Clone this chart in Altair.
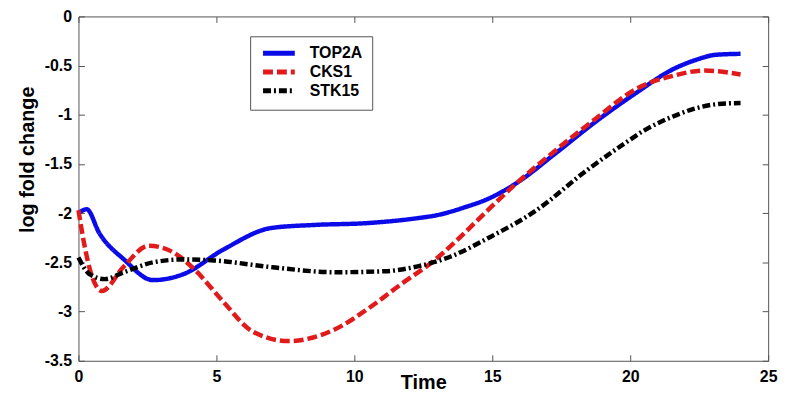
import altair as alt
import pandas as pd

# ---- data ----
series_names = ["TOP2A", "CKS1", "STK15"]
series_colors = ["#0b0be8", "#e11b1b", "#000000"]
series_dashes = [[1, 0], [10, 4], [8, 3, 2, 3]]

top2a_t = [0, 0.3, 0.75, 1.65, 2.7, 3.8, 5.25, 7.0, 8.5, 10.5, 12.3, 13.0, 14.0, 14.8, 15.9, 17.3, 18.7, 20.2, 21.6, 22.4, 23.1, 24]
top2a_v = [-2.0, -1.96, -2.2, -2.47, -2.68, -2.62, -2.37, -2.15, -2.12, -2.1, -2.05, -2.02, -1.94, -1.86, -1.69, -1.39, -1.08, -0.78, -0.53, -0.44, -0.39, -0.38]

cks1_t = [0, 0.2, 0.5, 0.85, 1.65, 2.55, 3.45, 4.2, 5.25, 6.3, 7.6, 9.3, 10.5, 11.7, 12.9, 13.7, 14.8, 15.9, 17.3, 18.7, 20.2, 21.6, 22.7, 24]
cks1_v = [-1.97, -2.3, -2.65, -2.79, -2.54, -2.33, -2.4, -2.57, -2.9, -3.2, -3.3, -3.18, -2.97, -2.72, -2.48, -2.28, -1.98, -1.69, -1.36, -1.05, -0.74, -0.6, -0.55, -0.59]

stk15_t = [0, 0.4, 0.95, 1.65, 2.7, 3.8, 4.9, 7.05, 9.3, 11.1, 12.3, 13.5, 14.8, 16.6, 18.4, 19.8, 20.5, 21.7, 22.3, 23.2, 24]
stk15_v = [-2.45, -2.62, -2.67, -2.6, -2.5, -2.47, -2.48, -2.55, -2.6, -2.59, -2.54, -2.44, -2.26, -1.97, -1.57, -1.29, -1.16, -1.0, -0.94, -0.89, -0.88]

x_ticks = [0, 5, 10, 15, 20, 25]
y_ticks = [0, -0.5, -1, -1.5, -2, -2.5, -3, -3.5]

rows = []
for name, ts, vs in zip(series_names, [top2a_t, cks1_t, stk15_t], [top2a_v, cks1_v, stk15_v]):
    for t, v in zip(ts, vs):
        rows.append({"series": name, "time": t, "value": v})
df = pd.DataFrame(rows)

W, H = 695, 347
FONT = "Liberation Sans"
AX = "#555555"

xscale = alt.Scale(domain=[0, 25], nice=False, zero=False)
yscale = alt.Scale(domain=[-3.5, 0], nice=False, zero=False)

legend = alt.Legend(
    orient="none", legendX=173, legendY=20, title=None,
    symbolType="M-4,0H4", symbolSize=64, symbolStrokeWidth=5,
    symbolOffset=12, labelOffset=23,
    labelFont=FONT, labelFontSize=16, labelFontWeight="bold", labelColor="black",
    padding=9, rowPadding=-1, strokeColor=AX, fillColor="white",
)

color = alt.Color("series:N", scale=alt.Scale(domain=series_names, range=series_colors), legend=legend)
dash = alt.StrokeDash("series:N", scale=alt.Scale(domain=series_names, range=series_dashes), legend=legend)

base = alt.Chart(df)

lines = base.mark_line(strokeWidth=4.5, interpolate="monotone", strokeCap="butt").encode(
    x=alt.X("time:Q", scale=xscale, axis=alt.Axis(
        orient="bottom", values=x_ticks, ticks=False, tickSize=0, grid=False,
        domain=True, domainColor=AX, domainWidth=1, labelPadding=8, labelFlush=False,
        labelFont=FONT, labelFontSize=16, labelFontWeight="bold", labelColor="black",
        labelExpr="toString(datum.value)",
        title="Time", titleFont=FONT, titleFontSize=20, titleFontWeight="bold", titleColor="black",
        titleY=28, titleBaseline="alphabetic")),
    y=alt.Y("value:Q", scale=yscale, axis=alt.Axis(
        orient="left", values=y_ticks, ticks=False, tickSize=0, grid=False,
        domain=True, domainColor=AX, domainWidth=1, labelPadding=7, labelFlush=False,
        labelFont=FONT, labelFontSize=16, labelFontWeight="bold", labelColor="black",
        labelExpr="toString(datum.value)",
        title="log fold change", titleFont=FONT, titleFontSize=20, titleFontWeight="bold",
        titleColor="black", titleX=-51, titleY=144, titleAngle=270, titleAlign="center",
        titleBaseline="middle")),
    color=color,
    strokeDash=dash,
)

ticks_a = base.mark_line(opacity=0).encode(
    x=alt.X("time:Q", scale=xscale, title=None, axis=alt.Axis(
        orient="bottom", offset=-H, values=x_ticks, labels=False, ticks=True, tickSize=6,
        tickColor=AX, grid=False, domain=True, domainColor=AX, domainWidth=1)),
    y=alt.Y("value:Q", scale=yscale, title=None, axis=alt.Axis(
        orient="left", offset=-W, values=y_ticks, labels=False, ticks=True, tickSize=6,
        tickColor=AX, grid=False, domain=True, domainColor=AX, domainWidth=1)),
    detail="series:N",
)

ticks_b = base.mark_line(opacity=0).encode(
    x=alt.X("time:Q", scale=xscale, title=None, axis=alt.Axis(
        orient="top", offset=-H, values=x_ticks, labels=False, ticks=True, tickSize=6,
        tickColor=AX, grid=False, domain=False)),
    y=alt.Y("value:Q", scale=yscale, title=None, axis=alt.Axis(
        orient="right", offset=-W, values=y_ticks, labels=False, ticks=True, tickSize=6,
        tickColor=AX, grid=False, domain=False)),
    detail="series:N",
)

chart = alt.layer(lines, ticks_a, ticks_b).resolve_axis(
    x="independent", y="independent"
).properties(
    width=W, height=H,
    autosize=alt.AutoSizeParams(type="none"),
    padding={"left": 71, "top": 7, "right": 20, "bottom": 34},
    background="white",
).configure_view(stroke=None)

chart.save("out.html", embed_options={"renderer": "svg", "actions": False})
